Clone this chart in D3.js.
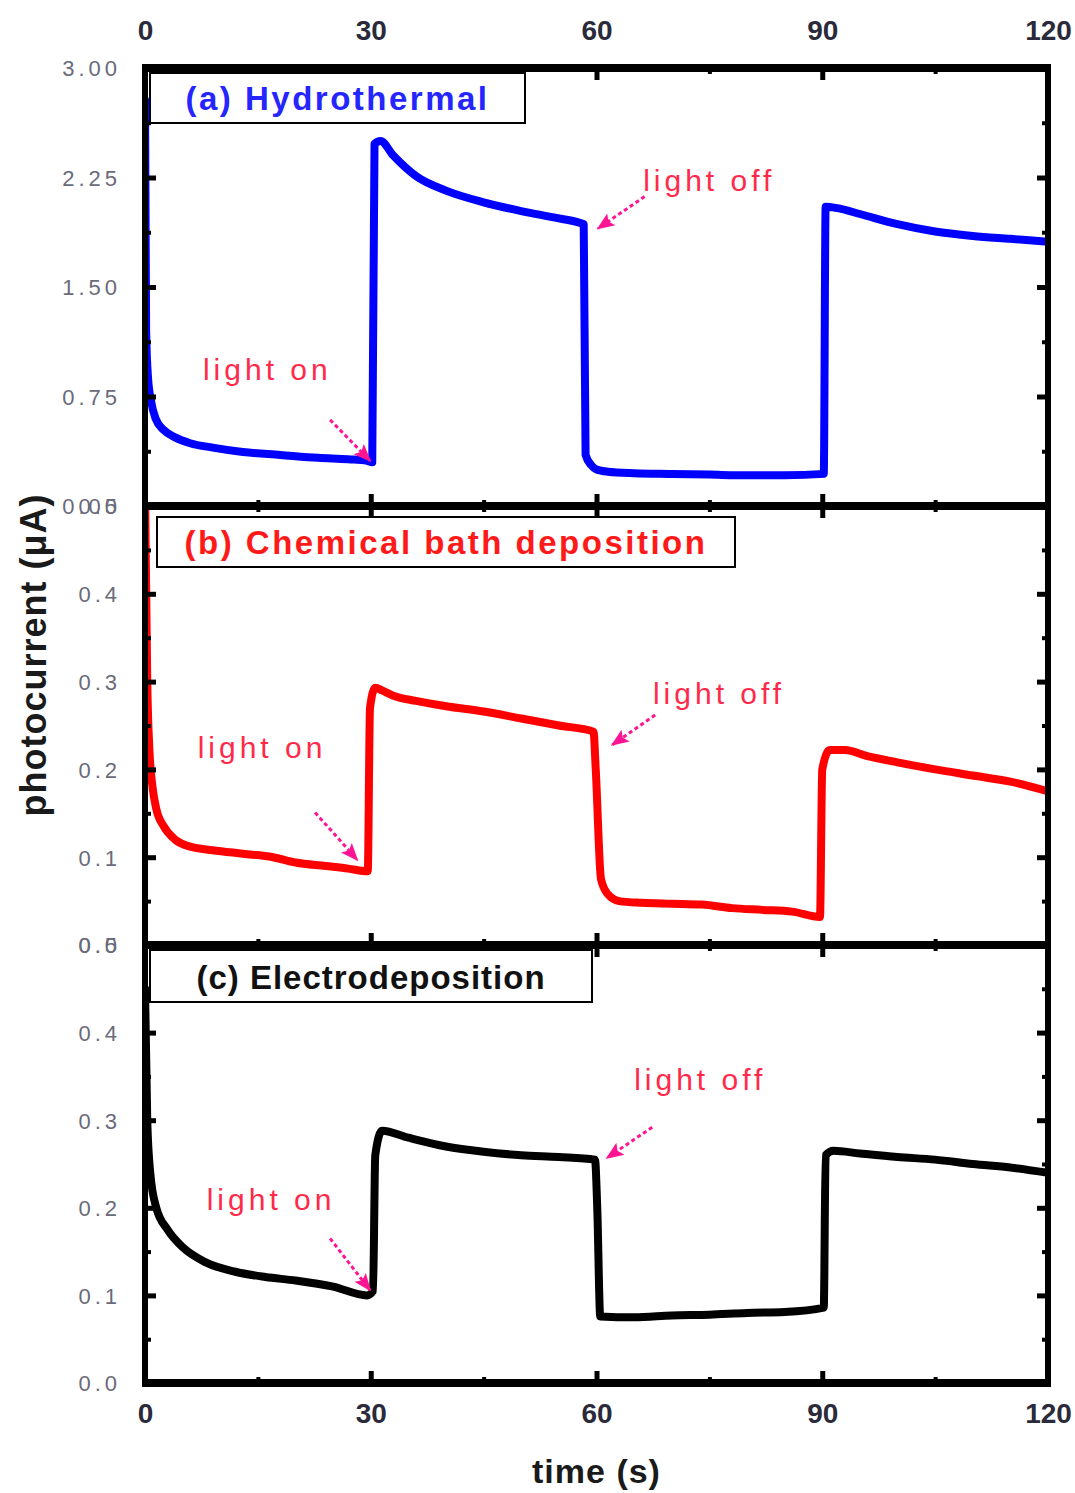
<!DOCTYPE html>
<html>
<head>
<meta charset="utf-8">
<script src="https://cdn.jsdelivr.net/npm/d3@7"></script>
<style>
  html, body { margin: 0; padding: 0; background: #fff; }
  svg { display: block; }
</style>
</head>
<body>
<svg id="chart" width="1075" height="1493"></svg>
<script>
// ---------------- data ----------------
const timeTicks = [0, 30, 60, 90, 120];
const timeMinorTicks = [15, 45, 75, 105];
const hydroTicks = [0, 0.75, 1.5, 2.25, 3.0];
const hydroMinorTicks = [0.375, 1.125, 1.875, 2.625];
const smallTicks = [0, 0.1, 0.2, 0.3, 0.4, 0.5];
const smallMinorTicks = [0.05, 0.15, 0.25, 0.35, 0.45];

const panelLabels = ["(a) Hydrothermal", "(b) Chemical bath deposition", "(c) Electrodeposition"];

// (a) Hydrothermal
const hydroTime = [0, 0.15, 0.4, 0.8, 1.4, 2.5, 4, 6, 9, 13, 18, 23, 27, 29.5, 30.2,
  30.5, 31.3, 33, 36, 40, 45, 50, 55, 58.3,
  58.55, 59.3, 60, 61.5, 65, 70, 75, 80, 85, 90.2,
  90.45, 92, 95, 100, 105, 110, 115, 120];
const hydroCurrent = [2.78, 1.2, 0.88, 0.72, 0.6, 0.52, 0.47, 0.43, 0.40, 0.37, 0.35, 0.33, 0.32, 0.31, 0.30,
  2.48, 2.50, 2.40, 2.26, 2.16, 2.08, 2.02, 1.97, 1.93,
  0.35, 0.28, 0.25, 0.235, 0.225, 0.22, 0.215, 0.21, 0.21, 0.22,
  2.05, 2.04, 2.00, 1.93, 1.88, 1.85, 1.83, 1.81];

// (b) Chemical bath deposition
const cbdTime = [0, 0.3, 0.6, 1, 1.5, 2.5, 4, 6, 9, 13, 17, 20, 24, 27, 29.6,
  29.9, 30.6, 31.5, 33, 36, 40, 45, 50, 55, 59.6,
  59.9, 60.6, 61.5, 63, 66, 70, 74, 78, 82, 86, 89.7,
  90.0, 91, 93, 96, 100, 105, 110, 115, 120];
const cbdCurrent = [0.52, 0.3, 0.22, 0.18, 0.155, 0.135, 0.12, 0.112, 0.108, 0.104, 0.1, 0.094, 0.09, 0.087, 0.084,
  0.27, 0.293, 0.29, 0.284, 0.278, 0.272, 0.266, 0.258, 0.25, 0.243,
  0.2, 0.075, 0.058, 0.05, 0.048, 0.047, 0.046, 0.042, 0.04, 0.038, 0.032,
  0.2, 0.222, 0.222, 0.215, 0.208, 0.2, 0.193, 0.186, 0.175];

// (c) Electrodeposition
const edTime = [0, 0.3, 0.7, 1.5, 3, 5, 8, 12, 16, 20, 25, 29.5, 30.3,
  30.6, 31.5, 35, 40, 45, 50, 55, 59.8,
  60.1, 60.5, 65, 70, 75, 80, 85, 90.2,
  90.45, 91.5, 95, 100, 105, 110, 115, 120];
const edCurrent = [0.45, 0.3, 0.24, 0.2, 0.175, 0.155, 0.138, 0.127, 0.121, 0.117, 0.11, 0.1, 0.105,
  0.26, 0.288, 0.28, 0.27, 0.264, 0.26, 0.258, 0.255,
  0.2, 0.076, 0.075, 0.077, 0.078, 0.08, 0.081, 0.086,
  0.26, 0.265, 0.262, 0.258, 0.255, 0.25, 0.246, 0.24];

// ---------------- layout ----------------
const svg = d3.select("#chart");
const x = d3.scaleLinear().domain([0, 120]).range([145, 1048]);

const panels = [
  { time: hydroTime, cur: hydroCurrent, color: "#0000ff", textColor: "#2525ff", domain: [0, 3], range: [506, 68],
    ticks: hydroTicks, minor: hydroMinorTicks, fmt: d3.format(".2f"), label: panelLabels[0], ls: 2.5,
    box: [150, 73, 375, 50],
    on: { tx: 7.7, ty: 0.86, ax1: 24.6, ay1: 0.59, ax2: 29.9, ay2: 0.31 },
    off: { tx: 66.2, ty: 2.16, ax1: 66.4, ay1: 2.12, ax2: 60.2, ay2: 1.90 } },
  { time: cbdTime, cur: cbdCurrent, color: "#ff0000", textColor: "#ff1a1a", domain: [0, 0.5], range: [945, 506],
    ticks: smallTicks, minor: smallMinorTicks, fmt: d3.format(".1f"), label: panelLabels[1], ls: 2.5,
    box: [157, 517, 578, 50],
    on: { tx: 7.0, ty: 0.213, ax1: 22.6, ay1: 0.151, ax2: 28.2, ay2: 0.097 },
    off: { tx: 67.5, ty: 0.274, ax1: 67.8, ay1: 0.262, ax2: 62.1, ay2: 0.228 } },
  { time: edTime, cur: edCurrent, color: "#000000", textColor: "#111", domain: [0, 0.5], range: [1383, 945],
    ticks: smallTicks, minor: smallMinorTicks, fmt: d3.format(".1f"), label: panelLabels[2], ls: 1,
    box: [150, 950, 442, 52],
    on: { tx: 8.2, ty: 0.198, ax1: 24.6, ay1: 0.165, ax2: 29.9, ay2: 0.106 },
    off: { tx: 65.0, ty: 0.335, ax1: 67.4, ay1: 0.292, ax2: 61.4, ay2: 0.257 } }
];

const defs = svg.append("defs");
defs.append("marker")
  .attr("id", "arrowhead")
  .attr("viewBox", "0 0 10 10")
  .attr("refX", 9).attr("refY", 5)
  .attr("markerWidth", 6).attr("markerHeight", 6)
  .attr("markerUnits", "strokeWidth")
  .attr("orient", "auto")
  .append("path").attr("d", "M0,1 L10,5 L0,9 L2,5 Z").attr("fill", "#ff1493");

const tickFont = "'Liberation Sans', Arial, sans-serif";

panels.forEach((p, i) => {
  const y = d3.scaleLinear().domain(p.domain).range(p.range);
  const top = p.range[1], bot = p.range[0];

  defs.append("clipPath").attr("id", "clip" + i)
    .append("rect").attr("x", x(0)).attr("y", top).attr("width", x(120) - x(0)).attr("height", bot - top);

  const g = svg.append("g");

  // data line
  const pts = p.time.map((t, k) => [t, p.cur[k]]);
  g.append("path")
    .datum(pts)
    .attr("clip-path", `url(#clip${i})`)
    .attr("fill", "none")
    .attr("stroke", p.color)
    .attr("stroke-width", 8)
    .attr("stroke-linejoin", "round")
    .attr("stroke-linecap", "round")
    .attr("d", d3.line().x(d => x(d[0])).y(d => y(d[1])).curve(d3.curveMonotoneX));

  // left axis (major with labels)
  const left = g.append("g").attr("transform", `translate(${x(0)},0)`)
    .call(d3.axisLeft(y).tickValues(p.ticks).tickFormat(p.fmt).tickSizeInner(-11).tickSizeOuter(0).tickPadding(24));
  left.select(".domain").remove();
  left.selectAll(".tick line").attr("stroke-width", 5);
  left.selectAll(".tick text")
    .attr("font-family", tickFont).attr("font-size", 22).attr("letter-spacing", "4px")
    .attr("fill", "#6a6a7a").attr("dy", "0.36em");
  g.append("g").attr("transform", `translate(${x(0)},0)`)
    .call(d3.axisLeft(y).tickValues(p.minor).tickFormat("").tickSizeInner(-6).tickSizeOuter(0))
    .call(s => s.select(".domain").remove())
    .selectAll(".tick line").attr("stroke-width", 4);

  // right axis
  g.append("g").attr("transform", `translate(${x(120)},0)`)
    .call(d3.axisRight(y).tickValues(p.ticks).tickFormat("").tickSizeInner(-11).tickSizeOuter(0))
    .call(s => s.select(".domain").remove())
    .selectAll(".tick line").attr("stroke-width", 5);
  g.append("g").attr("transform", `translate(${x(120)},0)`)
    .call(d3.axisRight(y).tickValues(p.minor).tickFormat("").tickSizeInner(-6).tickSizeOuter(0))
    .call(s => s.select(".domain").remove())
    .selectAll(".tick line").attr("stroke-width", 4);

  // bottom / top x ticks (inward)
  [[bot, d3.axisBottom, -12, -6], [top, d3.axisTop, -12, -6]].forEach(([yy, ax, maj, mn]) => {
    g.append("g").attr("transform", `translate(0,${yy})`)
      .call(ax(x).tickValues(timeTicks.slice(1, -1)).tickFormat("").tickSizeInner(maj).tickSizeOuter(0))
      .call(s => s.select(".domain").remove())
      .selectAll(".tick line").attr("stroke-width", 5);
    g.append("g").attr("transform", `translate(0,${yy})`)
      .call(ax(x).tickValues(timeMinorTicks).tickFormat("").tickSizeInner(mn).tickSizeOuter(0))
      .call(s => s.select(".domain").remove())
      .selectAll(".tick line").attr("stroke-width", 4);
  });

  // frame
  g.append("line").attr("x1", x(0) - 3).attr("x2", x(120) + 3).attr("y1", top).attr("y2", top)
    .attr("stroke", "#000").attr("stroke-width", 8);
  g.append("line").attr("x1", x(0) - 3).attr("x2", x(120) + 3).attr("y1", bot).attr("y2", bot)
    .attr("stroke", "#000").attr("stroke-width", 8);
  g.append("line").attr("x1", x(0)).attr("x2", x(0)).attr("y1", top).attr("y2", bot)
    .attr("stroke", "#000").attr("stroke-width", 6);
  g.append("line").attr("x1", x(120)).attr("x2", x(120)).attr("y1", top).attr("y2", bot)
    .attr("stroke", "#000").attr("stroke-width", 6);

  // panel label box
  g.append("rect")
    .attr("x", p.box[0]).attr("y", p.box[1]).attr("width", p.box[2]).attr("height", p.box[3])
    .attr("fill", "#fff").attr("stroke", "#000").attr("stroke-width", 2);
  g.append("text")
    .attr("x", p.box[0] + p.box[2] / 2).attr("y", p.box[1] + p.box[3] - 13)
    .attr("text-anchor", "middle")
    .attr("font-family", tickFont).attr("font-weight", "bold").attr("font-size", 33)
    .attr("letter-spacing", p.ls + "px")
    .attr("fill", p.textColor)
    .text(p.label);

  // annotations
  [["light on", p.on], ["light off", p.off]].forEach(([txt, a]) => {
    g.append("text")
      .attr("x", x(a.tx)).attr("y", y(a.ty))
      .attr("font-family", tickFont).attr("font-size", 30).attr("letter-spacing", "4px")
      .attr("fill", "#ff2a4a")
      .text(txt);
    g.append("line")
      .attr("x1", x(a.ax1)).attr("y1", y(a.ay1)).attr("x2", x(a.ax2)).attr("y2", y(a.ay2))
      .attr("stroke", "#ff1493").attr("stroke-width", 3).attr("stroke-dasharray", "4,3")
      .attr("marker-end", "url(#arrowhead)");
  });
});

// top and bottom time labels
const xTop = svg.append("g").attr("transform", "translate(0,68)")
  .call(d3.axisTop(x).tickValues(timeTicks).tickSize(0).tickPadding(28));
const xBot = svg.append("g").attr("transform", "translate(0,1383)")
  .call(d3.axisBottom(x).tickValues(timeTicks).tickSize(0).tickPadding(20));
[xTop, xBot].forEach(s => {
  s.select(".domain").remove();
  s.selectAll(".tick text")
    .attr("font-family", tickFont).attr("font-weight", "bold").attr("font-size", 28)
    .attr("fill", "#2a2a3a");
});

// axis titles
svg.append("text")
  .attr("x", x(60)).attr("y", 1483)
  .attr("text-anchor", "middle")
  .attr("font-family", tickFont).attr("font-weight", "bold").attr("font-size", 34)
  .attr("letter-spacing", "1px")
  .attr("fill", "#1a1a1a")
  .text("time (s)");

svg.append("text")
  .attr("transform", "translate(46,655) rotate(-90)")
  .attr("text-anchor", "middle")
  .attr("font-family", tickFont).attr("font-weight", "bold").attr("font-size", 36)
  .attr("letter-spacing", "1px")
  .attr("fill", "#1a1a1a")
  .text("photocurrent (μA)");
</script>
</body>
</html>
